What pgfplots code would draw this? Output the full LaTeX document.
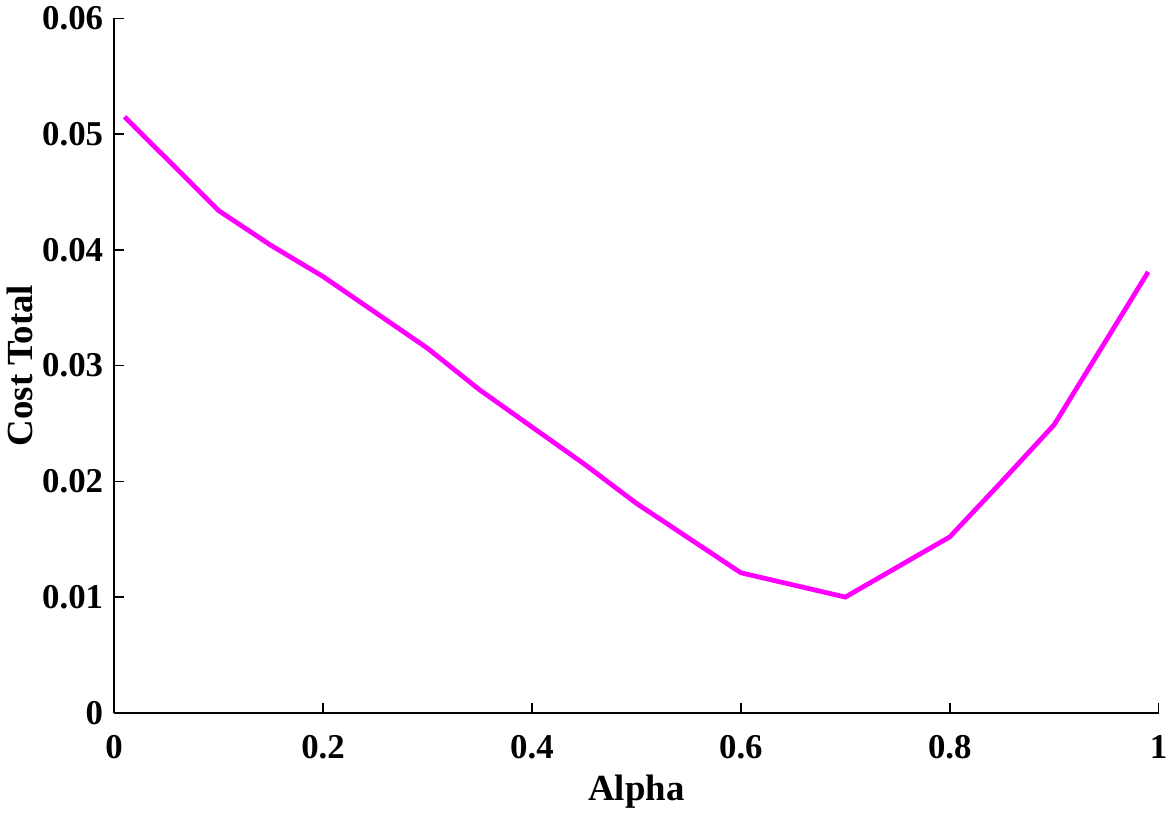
\documentclass[border=0pt]{standalone}
\usepackage{fontspec}
\setmainfont{Liberation Serif}
\usepackage{pgfplots}
\pgfplotsset{compat=1.18}
\begin{document}
\begin{tikzpicture}
\begin{axis}[
  width=525pt, height=349pt, scale only axis,
  xmin=0, xmax=1, ymin=0, ymax=0.06,
  axis x line*=bottom, axis y line*=left,
  axis line style={line width=0.8pt, -},
  tick align=inside, major tick length=5pt,
  tick style={line width=0.8pt, black},
  scaled y ticks=false, scaled x ticks=false,
  xtick={0,0.2,0.4,0.6,0.8,1},
  xticklabels={0,0.2,0.4,0.6,0.8,1},
  ytick={0,0.01,0.02,0.03,0.04,0.05,0.06},
  yticklabels={0,0.01,0.02,0.03,0.04,0.05,0.06},
  /pgf/number format/assume math mode=true,
  tick label style={font=\fontsize{17.5}{20}\selectfont\bfseries},
  label style={font=\fontsize{18.5}{22}\selectfont\bfseries},
  xlabel={Alpha}, ylabel={Cost Total},
  xticklabel style={yshift=-8pt},
  yticklabel style={xshift=-2pt},
  xlabel style={yshift=-1pt},
  ylabel style={yshift=-2pt},
]
\addplot[color={rgb,255:red,255;green,0;blue,255}, line width=2.4pt] coordinates {
(0.01,0.0515) (0.1,0.0434) (0.15,0.0404) (0.2,0.0377) (0.25,0.0346)
(0.3,0.0315) (0.35,0.0279) (0.4,0.0247) (0.45,0.0215) (0.5,0.0181)
(0.6,0.0121) (0.7,0.0100) (0.8,0.0152) (0.85,0.0200) (0.9,0.0249) (0.99,0.0381)
};
\end{axis}
\end{tikzpicture}
\end{document}
